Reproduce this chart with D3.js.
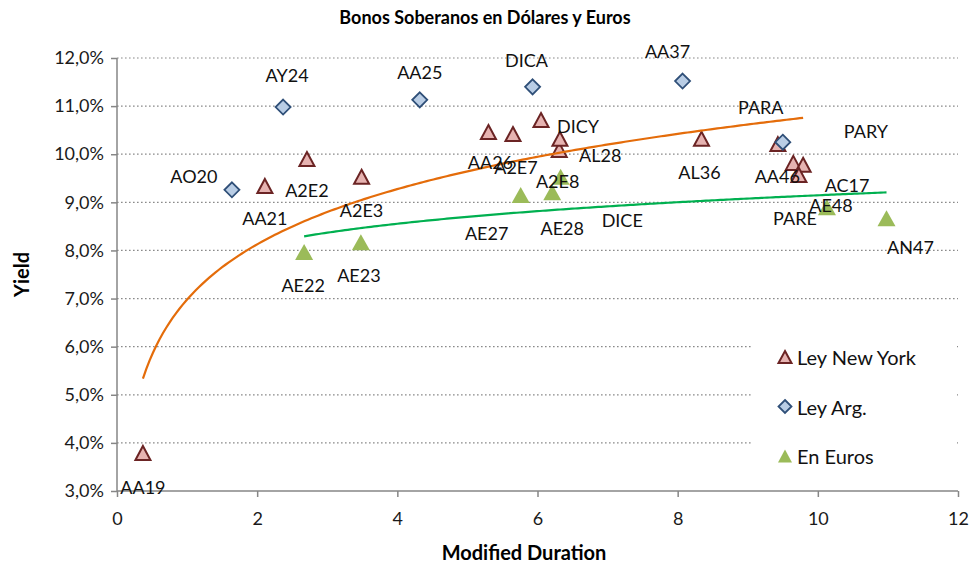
<!DOCTYPE html>
<html>
<head>
<meta charset="utf-8">
<script src="https://cdn.jsdelivr.net/npm/d3@7"></script>
<style>
  html, body { margin: 0; padding: 0; background: #fff; }
  svg { display: block; font-family: Lato, "Open Sans", sans-serif; }
</style>
</head>
<body>
<svg id="chart" width="969" height="566"></svg>
<script>
// ---------------- DATA ----------------
const title = "Bonos Soberanos  en Dólares y Euros";
const xTitle = "Modified Duration";
const yTitle = "Yield";
const xTicks = [0, 2, 4, 6, 8, 10, 12];
const yTicks = [3, 4, 5, 6, 7, 8, 9, 10, 11, 12];
const seriesNames = ["Ley New York", "Ley Arg.", "En Euros"];

// Ley New York
const nyNames = ["AA19", "AA21", "A2E2", "A2E3", "AA26", "A2E7", "DICY", "AL28", "", "AL36", "PARY", "AA46", "AC17", ""];
const nyDuration = [0.37, 2.11, 2.71, 3.49, 5.30, 5.65, 6.05, 6.31, 6.32, 8.34, 9.43, 9.65, 9.79, 9.73];
const nyYield = [3.79, 9.34, 9.90, 9.53, 10.46, 10.42, 10.71, 10.09, 10.32, 10.32, 10.21, 9.82, 9.78, 9.57];

// Ley Arg.
const argNames = ["AO20", "AY24", "AA25", "DICA", "AA37", "PARA"];
const argDuration = [1.64, 2.37, 4.32, 5.93, 8.07, 9.50];
const argYield = [9.26, 10.98, 11.13, 11.40, 11.52, 10.25];

// En Euros
const eurNames = ["AE22", "AE23", "AE27", "AE28", "A2E8", "AE48", "AN47"];
const eurDuration = [2.67, 3.48, 5.76, 6.21, 6.33, 10.13, 10.98];
const eurYield = [7.97, 8.17, 9.15, 9.21, 9.53, 8.90, 8.67];
// labels shown without a visible marker (attached to a point index)
const eurExtraNames = ["DICE", "PARE"];
const eurExtraAnchor = [3, 5];

// ---------------- LAYOUT (label offsets in px, centre of text relative to marker) ----------------
const nyLabelOffset = [[0,34],[0,32],[0,31],[0,33],[2,30],[3,33],[37,6],[41,5],[0,0],[-2,33],[88,-13],[-16,13],[44,20],[0,0]];
const argLabelOffset = [[-38,-14],[4,-32],[0,-28],[-6,-27],[-15,-30],[-22,-35]];
const eurLabelOffset = [[-1,33],[-2,33],[-34,38],[10,36],[-3,4],[4,-2],[24,29]];
const eurExtraOffset = [[70,28],[-32,11]];

// ---------------- CHART ----------------
const svg = d3.select("#chart");
const m = {left: 117, right: 958, top: 58, bottom: 491};

const x = d3.scaleLinear().domain([0, 12]).range([m.left, m.right]);
const y = d3.scaleLinear().domain([3, 12]).range([m.bottom, m.top]);

// Title
svg.append("text").attr("x", 485).attr("y", 24).attr("text-anchor", "middle")
  .attr("font-weight", "bold").attr("font-size", 18).attr("fill", "#000").text(title);

// Gridlines
svg.append("g").selectAll("line").data(yTicks.filter(d => d > 3)).join("line")
  .attr("x1", m.left).attr("x2", m.right)
  .attr("y1", d => y(d)).attr("y2", d => y(d))
  .attr("stroke", "#8a8a8a").attr("stroke-width", 1.2).attr("stroke-dasharray", "1.6,2.4");

// Axes
const fmt = d => d.toFixed(1).replace(".", ",") + "%";
const yAxis = svg.append("g").attr("transform", `translate(${m.left},0)`)
  .call(d3.axisLeft(y).tickValues(yTicks).tickFormat(fmt).tickSize(6).tickPadding(7));
const xAxis = svg.append("g").attr("transform", `translate(0,${m.bottom})`)
  .call(d3.axisBottom(x).tickValues(xTicks).tickFormat(d3.format("d")).tickSize(6).tickPadding(15));
[yAxis, xAxis].forEach(a => {
  a.select(".domain").attr("stroke", "#868686").attr("stroke-width", 1.5);
  a.selectAll(".tick line").attr("stroke", "#868686").attr("stroke-width", 1.5);
  a.selectAll(".tick text").attr("font-size", 18).attr("fill", "#1a1a1a").attr("font-family", "Lato, sans-serif");
});
yAxis.select(".domain").attr("d", `M0,${m.bottom}V${m.top}`);
xAxis.select(".domain").attr("d", `M${m.left},0H${m.right}`);

// Axis titles
svg.append("text").attr("x", 524).attr("y", 560).attr("text-anchor", "middle")
  .attr("font-weight", "bold").attr("font-size", 20).text(xTitle);
svg.append("text").attr("transform", `translate(29,${(m.top + m.bottom) / 2}) rotate(-90)`)
  .attr("text-anchor", "middle").attr("font-weight", "bold").attr("font-size", 20).text(yTitle);

// Marker shapes
const triPath = (w, h) => `M0,${-h/2}L${w/2},${h/2}L${-w/2},${h/2}Z`;
const diaPath = s => `M0,${-s}L${s},0L0,${s}L${-s},0Z`;

const styles = {
  ny: {d: triPath(15, 14), fill: "#e6b3b1", stroke: "#6b2424", sw: 2},
  arg: {d: diaPath(7.5), fill: "#b9cde5", stroke: "#2f4f78", sw: 1.8},
  eur: {d: triPath(18, 16), fill: "#9bbb59", stroke: "none", sw: 0}
};

function drawPoints(dur, yl, st) {
  svg.append("g").selectAll("path").data(dur.map((d, i) => [d, yl[i]])).join("path")
    .attr("transform", d => `translate(${x(d[0])},${y(d[1])})`)
    .attr("d", st.d).attr("fill", st.fill).attr("stroke", st.stroke).attr("stroke-width", st.sw)
    .attr("stroke-linejoin", "miter");
}
drawPoints(nyDuration, nyYield, styles.ny);
drawPoints(argDuration, argYield, styles.arg);
drawPoints(eurDuration, eurYield, styles.eur);

// Logarithmic trendlines (least squares on ln x)
function logFit(xs, ys) {
  const lx = xs.map(Math.log);
  const mx = d3.mean(lx), my = d3.mean(ys);
  const b = d3.sum(lx, (v, i) => (v - mx) * (ys[i] - my)) / d3.sum(lx, v => (v - mx) ** 2);
  return {a: my - b * mx, b};
}
function drawTrend(xs, ys, color) {
  const f = logFit(xs, ys);
  const [lo, hi] = d3.extent(xs);
  const pts = d3.range(0, 201).map(k => lo + (hi - lo) * k / 200);
  svg.append("path").datum(pts)
    .attr("d", d3.line().x(v => x(v)).y(v => y(f.a + f.b * Math.log(v))))
    .attr("fill", "none").attr("stroke", color).attr("stroke-width", 2.2);
}
drawTrend(nyDuration, nyYield, "#e46c0a");
drawTrend(eurDuration, eurYield, "#00b050");

// Data labels
function drawLabels(names, dur, yl, off) {
  svg.append("g").selectAll("text").data(names.map((n, i) => ({n, i}))).join("text")
    .attr("x", d => x(dur[d.i]) + off[d.i][0])
    .attr("y", d => y(yl[d.i]) + off[d.i][1])
    .attr("text-anchor", "middle").attr("dominant-baseline", "central")
    .attr("font-size", 18).attr("fill", "#111").text(d => d.n);
}
drawLabels(nyNames, nyDuration, nyYield, nyLabelOffset);
drawLabels(argNames, argDuration, argYield, argLabelOffset);
drawLabels(eurNames, eurDuration, eurYield, eurLabelOffset);
drawLabels(eurExtraNames, eurExtraAnchor.map(i => eurDuration[i]), eurExtraAnchor.map(i => eurYield[i]), eurExtraOffset);

// Legend
const lg = svg.append("g");
lg.append("rect").attr("x", 752).attr("y", 336).attr("width", 203).attr("height", 143).attr("fill", "#fff");
const legendStyles = [styles.ny, styles.arg, styles.eur];
const legendMarkerShapes = [triPath(13, 12), diaPath(6.5), triPath(14, 13)];
seriesNames.forEach((name, i) => {
  const cy = 357 + i * 49.5;
  const st = legendStyles[i];
  lg.append("path").attr("transform", `translate(785,${cy})`).attr("d", legendMarkerShapes[i])
    .attr("fill", st.fill).attr("stroke", st.stroke).attr("stroke-width", st.sw);
  lg.append("text").attr("x", 797).attr("y", cy).attr("dominant-baseline", "central")
    .attr("font-size", 20).attr("fill", "#111").text(name);
});
</script>
</body>
</html>
